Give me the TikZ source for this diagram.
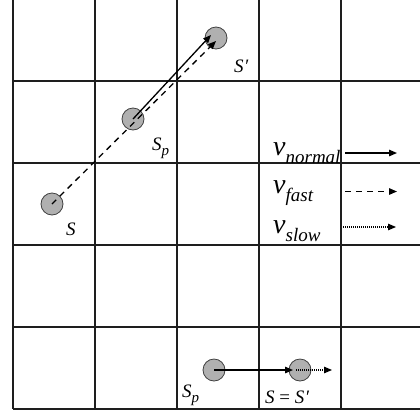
\documentclass[tikz,border=0pt]{standalone}
\usepackage{fontspec}
\setmainfont{Liberation Serif}
\usetikzlibrary{arrows.meta}
\newcommand{\vlab}[1]{{\fontsize{28}{30}\selectfont\itshape v}\raisebox{-8pt}{\fontsize{19}{20}\selectfont\itshape #1}}
\newcommand{\Slab}{{\fontsize{19}{20}\selectfont\itshape S}}
\newcommand{\Sprimelab}{{\fontsize{19}{20}\selectfont\itshape S\kern0.5pt′}}
\newcommand{\Splab}{{\fontsize{19}{20}\selectfont\itshape S}\raisebox{-5pt}{\fontsize{15}{16}\selectfont\itshape p}}
\definecolor{ballgray}{RGB}{176,176,176}
\definecolor{gridcol}{RGB}{30,30,30}
\tikzset{
  gridline/.style={draw=gridcol, line width=1.3pt},
  ball/.style={circle, draw=black!75, line width=0.8pt, fill=ballgray, minimum size=22pt, inner sep=0pt},
  lab/.style={anchor=base west, inner sep=0pt},
  tip/.style={-{Triangle[length=8pt,width=6.5pt]}},
  normalarrow/.style={tip, line width=1.3pt},
  fastarrow/.style={tip, line width=1.3pt, dash pattern=on 6pt off 5pt},
  slowarrow/.style={tip, line width=1.1pt, dash pattern=on 1pt off 1pt},
}
\begin{document}
\begin{tikzpicture}[x=1pt,y=-1pt]
\useasboundingbox (0,0) rectangle (420,413);
% grid
\foreach \x in {13,95,177,259,341} \draw[gridline] (\x,0) -- (\x,409);
\foreach \y in {81,163,245,327,409} \draw[gridline] (13,\y) -- (420,\y);
% balls
\node[ball] (S) at (52,204) {};
\node[ball] (Sp) at (133,119) {};
\node[ball] (Sprime) at (216,38) {};
\node[ball] (Sp2) at (214,370) {};
\node[ball] (S2) at (300,370) {};
% arrows
\coordinate (fastend) at (216,41);
\coordinate (normend) at (211,35);
\draw[fastarrow] (S.center) -- (fastend);
\draw[normalarrow] (Sp.center) -- (normend);
\coordinate (n2end) at (293,370);
\coordinate (s2start) at (296,370);
\coordinate (s2end) at (332,370);
\draw[normalarrow] (Sp2.center) -- (n2end);
\draw[slowarrow] (s2start) -- (s2end);
% labels
\node[lab] (lS) at (66,235) {\Slab};
\node[lab] (lSp) at (152,150) {\Splab};
\node[lab] (lSprime) at (234,72) {\Sprimelab};
\node[lab] (lSp2) at (182,397) {\Splab};
\node[lab] (lS2) at (265,403) {\Slab{\fontsize{19}{20}\selectfont\ =\ }\Sprimelab};
% legend
\node[lab] (vn) at (273,155) {\vlab{normal}};
\node[lab] (vf) at (273,193) {\vlab{fast}};
\node[lab] (vs) at (273,233) {\vlab{slow}};
\coordinate (na) at (345,153);
\coordinate (nb) at (397,153);
\coordinate (fa) at (345,191.5);
\coordinate (fb) at (397,191.5);
\coordinate (sa) at (343,227);
\coordinate (sb) at (396,227);
\draw[normalarrow] (na) -- (nb);
\draw[fastarrow] (fa) -- (fb);
\draw[slowarrow] (sa) -- (sb);
\end{tikzpicture}
\end{document}
